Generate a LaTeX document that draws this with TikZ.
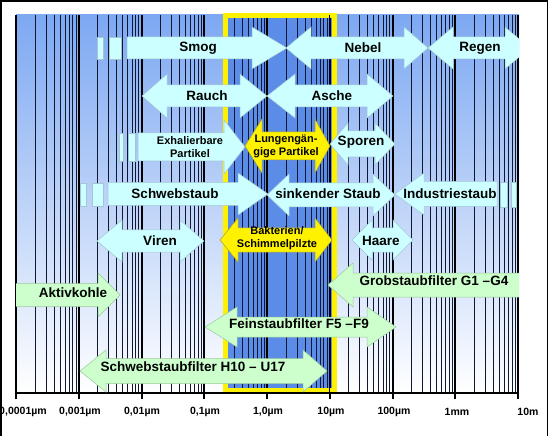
\documentclass[tikz,border=0pt]{standalone}
\usepackage{fontspec}
\setmainfont{Liberation Sans}
\usepackage{xcolor}
\usepackage{tikz}

\definecolor{skytop}{HTML}{7DA8F2}
\definecolor{skymid}{HTML}{D6E4FB}
\definecolor{skybot}{HTML}{FFFFFF}
\definecolor{lungblue}{HTML}{5B8CE8}
\definecolor{gridnavy}{HTML}{0F1830}
\definecolor{cyanfill}{HTML}{CCFFFF}
\definecolor{greenfill}{HTML}{CCFFCC}

% double arrow: style, left tip, right tip, y, body half, head half, left head, right head
\newcommand{\dblarr}[8]{%
  \draw[#1] (#2,#4) -- ({#2+#7},{#4-#6}) -- ({#2+#7},{#4-#5}) -- ({#3-#8},{#4-#5})
    -- ({#3-#8},{#4-#6}) -- (#3,#4) -- ({#3-#8},{#4+#6}) -- ({#3-#8},{#4+#5})
    -- ({#2+#7},{#4+#5}) -- ({#2+#7},{#4+#6}) -- cycle;}
% arrow to the right: style, tail, tip, y, body half, head half, head
\newcommand{\rgtarr}[7]{%
  \draw[#1] (#2,{#4-#5}) -- ({#3-#7},{#4-#5}) -- ({#3-#7},{#4-#6}) -- (#3,#4)
    -- ({#3-#7},{#4+#6}) -- ({#3-#7},{#4+#5}) -- (#2,{#4+#5}) -- cycle;}
% arrow to the left: style, tip, tail, y, body half, head half, head
\newcommand{\lftarr}[7]{%
  \draw[#1] (#2,#4) -- ({#2+#7},{#4-#6}) -- ({#2+#7},{#4-#5}) -- (#3,{#4-#5})
    -- (#3,{#4+#5}) -- ({#2+#7},{#4+#5}) -- ({#2+#7},{#4+#6}) -- cycle;}

\begin{document}
\begin{tikzpicture}[x=1pt, y=-1pt,
  cyanarr/.style={fill=cyanfill, draw=cyan!40!gray!60, line width=0.5pt},
  greenarr/.style={fill=greenfill, draw=green!30!gray!60, line width=0.5pt},
  yellowarr/.style={fill=yellow, draw=yellow!60!black, line width=0.5pt},
  gridline/.style={gridnavy, line width=0.5pt},
  decline/.style={black, line width=2pt},
  lbl/.style={font=\bfseries\fontsize{13.5}{15}\selectfont, inner sep=0pt},
  smalllbl/.style={font=\bfseries\fontsize{11}{13}\selectfont, inner sep=0pt, align=center},
  axislbl/.style={font=\bfseries\fontsize{10.5}{12}\selectfont, inner sep=0pt}]
\useasboundingbox (0,0) rectangle (550,436);
\fill[white] (0,0) rectangle (550,436);

% plot background
\shade[top color=skytop, middle color=skymid, bottom color=skybot] (16,15) rectangle (519,393);
\fill[lungblue] (226,15) rectangle (334,390);

% log grid
\foreach \d in {0,...,7}
  \foreach \k in {2,...,9}
    \draw[gridline] ({16+62.75*(\d+log10(\k))},15) -- ++(0,378);
\foreach \d in {0,...,8}
  \draw[decline] ({16+62.75*\d},15) -- ({16+62.75*\d},399);
\draw[yellow, line width=5pt] (225.5,15.5) rectangle (334.5,390.5);
\draw[black, line width=1.2pt] (329.75,15) -- (329.75,393);
\draw[black, line width=2pt] (16,393) -- (519,393);

% arrows
\begin{scope}
\clip (16,0) rectangle (519,436);
% row 1
\fill[cyanarr] (97,37) rectangle (103,59);
\fill[cyanarr] (109,37) rectangle (121,59);
\rgtarr{cyanarr}{127}{287}{48}{11}{21}{35}
\dblarr{cyanarr}{286}{428}{48}{11}{21}{25}{24}
\dblarr{cyanarr}{428}{530}{48}{11}{21}{25}{25}
% row 2
\dblarr{cyanarr}{142}{267}{96}{11}{22}{25}{27}
\dblarr{cyanarr}{267}{393}{96}{11}{22}{28}{26}
% row 3
\fill[cyanarr] (119,133) rectangle (123,161);
\fill[cyanarr] (128,133) rectangle (135,161);
\rgtarr{cyanarr}{138}{245}{147}{14}{27}{21}
\dblarr{cyanarr}{330}{395}{144}{13}{21}{18}{20}
\dblarr{yellowarr}{245}{330}{146}{14}{27}{17}{15}
% row 4
\fill[cyanarr] (80,183) rectangle (86,206);
\fill[cyanarr] (92,183) rectangle (103,206);
\rgtarr{cyanarr}{108}{268}{194}{11.5}{21}{30}
\dblarr{cyanarr}{267}{395}{195}{12}{21}{22}{22}
\lftarr{cyanarr}{395}{497}{194}{12.5}{21}{29}
\fill[cyanarr] (500,182) rectangle (507,207);
\fill[cyanarr] (511,182) rectangle (516,207);
% row 5
\dblarr{cyanarr}{97}{204}{241}{11}{21}{25}{24}
\dblarr{yellowarr}{220}{332}{240}{12}{22}{18}{17}
\dblarr{cyanarr}{352}{413}{240}{12}{20}{20}{20}
% filters
\rgtarr{greenarr}{10}{120}{295}{11.5}{22}{22}
\lftarr{greenarr}{328}{525}{285}{12}{22}{25}
\dblarr{greenarr}{205}{396}{327}{10}{20}{32}{29}
\dblarr{greenarr}{80}{327}{371}{12.5}{21}{26}{24}
\end{scope}

% labels
\node[lbl] (smog) at (198,48) {Smog};
\node[lbl] (nebel) at (363,48) {Nebel};
\node[lbl] (regen) at (480,48) {Regen};
\node[lbl] (rauch) at (207,96) {Rauch};
\node[lbl] (asche) at (332,96) {Asche};
\node[smalllbl] (exhal) at (190,147) {Exhalierbare\\Partikel};
\node[smalllbl] (lunge) at (286,146) {Lungengän-\\gige Partikel};
\node[lbl] (sporen) at (361,142) {Sporen};
\node[lbl] (schweb) at (175,194) {Schwebstaub};
\node[lbl] (sinkend) at (328,194) {sinkender Staub};
\node[lbl] (industrie) at (450,194) {Industriestaub};
\node[lbl] (viren) at (160,241) {Viren};
\node[smalllbl] (bakterien) at (277,238) {Bakterien/\\Schimmelpilzte};
\node[lbl] (haare) at (381,241) {Haare};
\node[lbl] (aktiv) at (73,293) {Aktivkohle};
\node[lbl] (grob) at (434,281) {Grobstaubfilter G1 --G4};
\node[lbl] (fein) at (299,324) {Feinstaubfilter F5 --F9};
\node[lbl] (hepa) at (193,367) {Schwebstaubfilter H10 -- U17};

% axis labels
\node[axislbl] (a0) at (23,412) {0,0001µm};
\node[axislbl] (a1) at (80,412) {0,001µm};
\node[axislbl] (a2) at (142,412) {0,01µm};
\node[axislbl] (a3) at (205,412) {0,1µm};
\node[axislbl] (a4) at (268,412) {1,0µm};
\node[axislbl] (a5) at (331,412) {10µm};
\node[axislbl] (a6) at (394,412) {100µm};
\node[axislbl] (a7) at (457,412) {1mm};
\node[axislbl] (a8) at (528,412) {10m};

% frame
\draw[black, line width=1.2pt] (1,437) |- (547.5,1) -- (547.5,437);
\end{tikzpicture}
\end{document}
